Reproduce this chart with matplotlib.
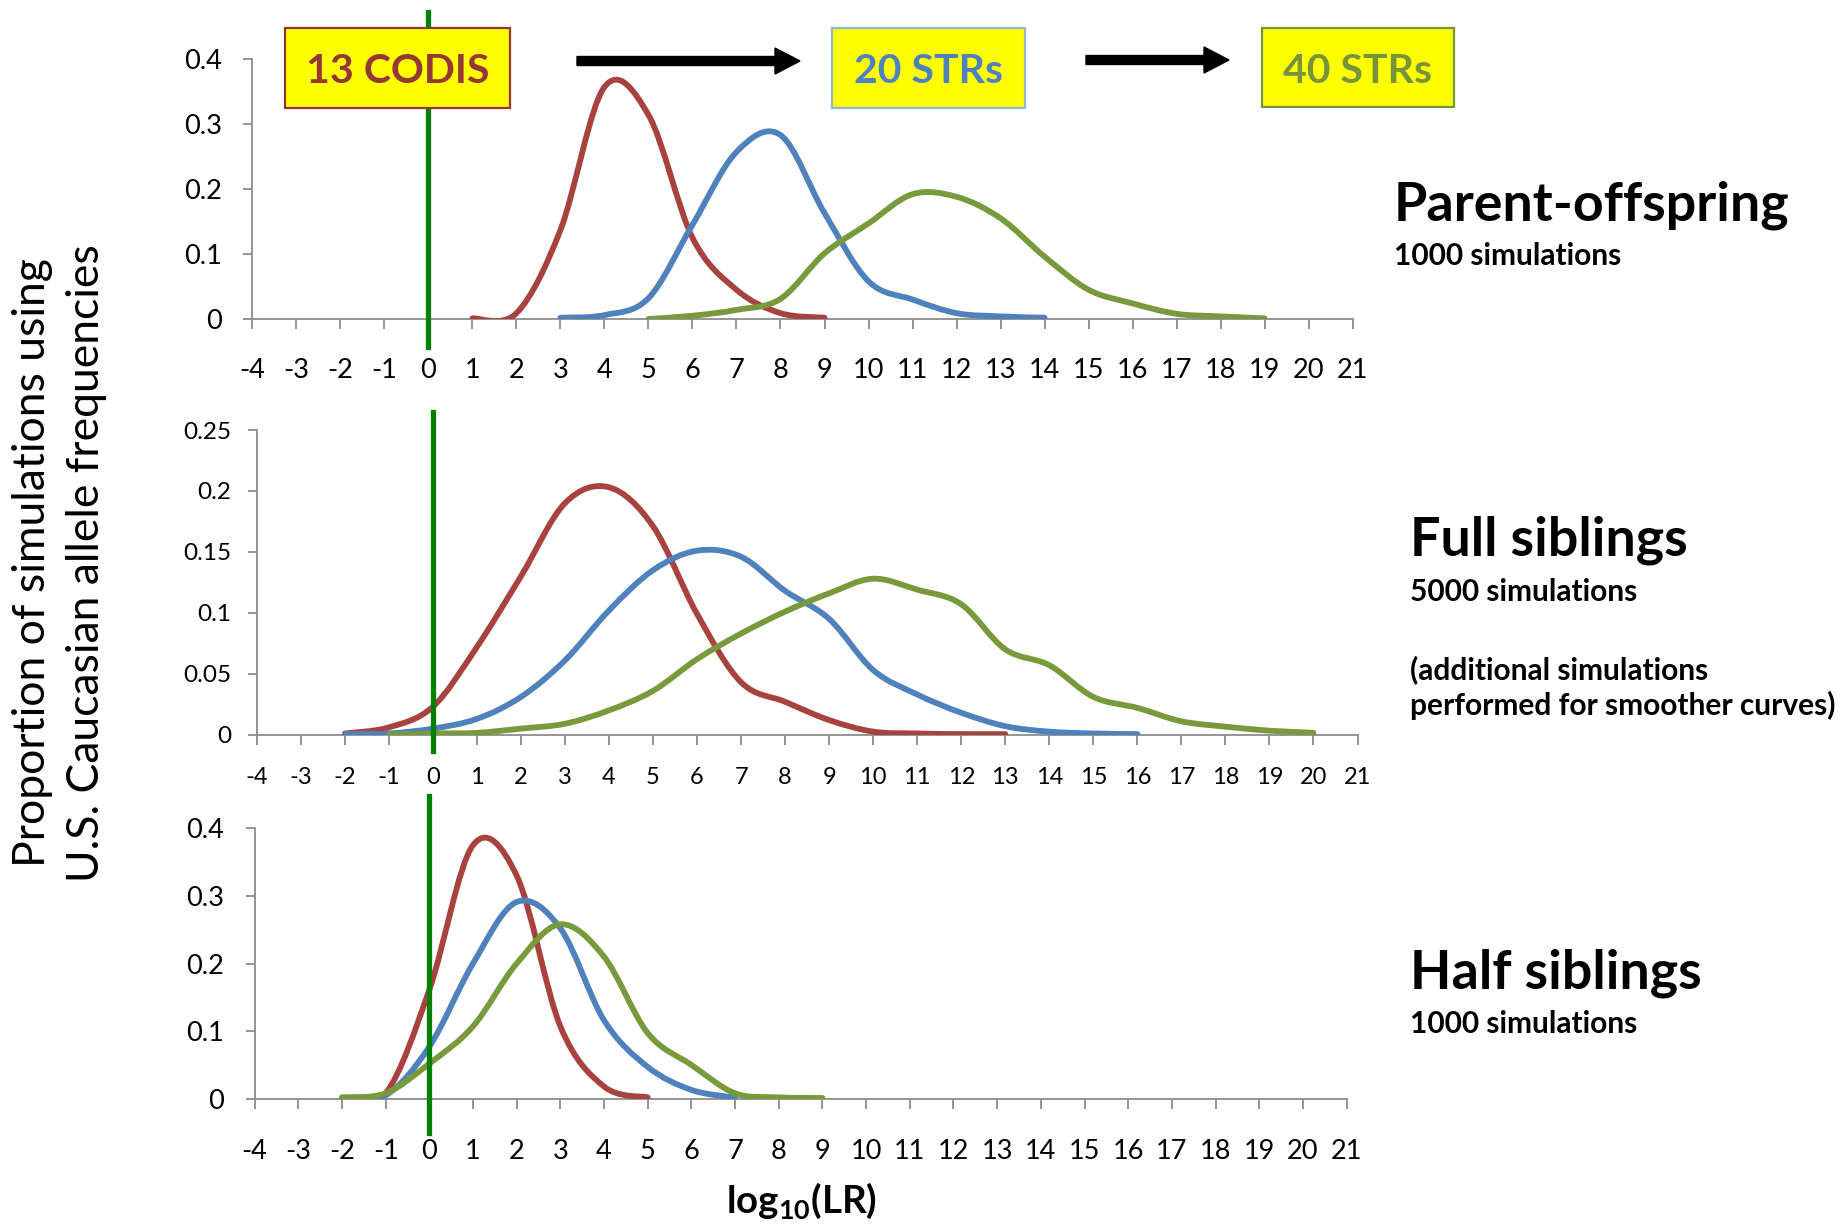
import matplotlib
matplotlib.use('Agg')
import matplotlib.pyplot as plt
import numpy as np
from matplotlib.path import Path
from matplotlib.patches import PathPatch, Rectangle, FancyArrow

plt.rcParams['font.family'] = ['Lato', 'DejaVu Sans']
plt.rcParams['mathtext.fontset'] = 'custom'
plt.rcParams['mathtext.rm'] = 'Lato'
plt.rcParams['mathtext.bf'] = 'Lato:bold'

# ---------------- data ----------------
x_ticks = list(range(-4, 22))

# Parent-offspring (1000 simulations)
po_codis_x = list(range(1, 10))
po_codis_y = [0.001, 0.009, 0.137, 0.357, 0.314, 0.125, 0.045, 0.009, 0.002]
po_str20_x = list(range(3, 15))
po_str20_y = [0.002, 0.006, 0.032, 0.145, 0.257, 0.283, 0.163, 0.058, 0.030, 0.009, 0.004, 0.002]
po_str40_x = list(range(5, 20))
po_str40_y = [0.000, 0.005, 0.014, 0.031, 0.101, 0.147, 0.192, 0.188, 0.155, 0.096,
              0.045, 0.024, 0.008, 0.004, 0.001]

# Full siblings (5000 simulations)
fs_codis_x = list(range(-2, 14))
fs_codis_y = [0.001, 0.006, 0.023, 0.072, 0.130, 0.190, 0.203, 0.171, 0.099, 0.043,
              0.027, 0.012, 0.0025, 0.001, 0.0005, 0.0005]
fs_str20_x = list(range(-2, 17))
fs_str20_y = [0.0005, 0.001, 0.005, 0.013, 0.031, 0.061, 0.102, 0.135, 0.151, 0.146,
              0.118, 0.095, 0.053, 0.033, 0.018, 0.007, 0.0025, 0.001, 0.0005]
fs_str40_x = list(range(-1, 21))
fs_str40_y = [0.000, 0.001, 0.0015, 0.005, 0.009, 0.020, 0.036, 0.062, 0.083, 0.101,
              0.116, 0.128, 0.119, 0.107, 0.070, 0.057, 0.031, 0.022, 0.011, 0.0066,
              0.0033, 0.0016]

# Half siblings (1000 simulations)
hs_codis_x = list(range(-2, 6))
hs_codis_y = [0.001, 0.008, 0.161, 0.375, 0.330, 0.107, 0.018, 0.002]
hs_str20_x = list(range(-2, 8))
hs_str20_y = [0.0015, 0.005, 0.077, 0.200, 0.291, 0.252, 0.116, 0.047, 0.013, 0.0015]
hs_str40_x = list(range(-2, 10))
hs_str40_y = [0.002, 0.008, 0.052, 0.107, 0.200, 0.258, 0.210, 0.097, 0.050, 0.008,
              0.002, 0.001]

po_yticks = [0, 0.1, 0.2, 0.3, 0.4]
fs_yticks = [0, 0.05, 0.1, 0.15, 0.2, 0.25]
hs_yticks = [0, 0.1, 0.2, 0.3, 0.4]

RED = '#A8423F'
BLUE = '#4F81BD'
GREEN = '#789A3C'
AXC = '#8C8C8C'
VLINE = '#008000'

W, H = 1841, 1224
fig = plt.figure(figsize=(W / 100, H / 100), dpi=100)


def smooth_path(xs, ys):
    """Excel-style smoothed line: cubic Bezier through the points."""
    pts = np.column_stack([xs, ys]).astype(float)
    n = len(pts)
    verts = [pts[0]]
    codes = [Path.MOVETO]
    for i in range(n - 1):
        p0 = pts[i - 1] if i > 0 else pts[i]
        p1 = pts[i]
        p2 = pts[i + 1]
        p3 = pts[i + 2] if i + 2 < n else pts[i + 1]
        c1 = p1 + (p2 - p0) / 6.0
        c2 = p2 - (p3 - p1) / 6.0
        verts += [c1, c2, p2]
        codes += [Path.CURVE4] * 3
    return Path(verts, codes)


def make_axes(rect, yticks, ylabels, ylim, xfs, yfs, xpad, ypad, series, vl):
    ax = fig.add_axes(rect)
    ax.set_xlim(-4, 21)
    ax.set_ylim(*ylim)
    for s in ['top', 'right']:
        ax.spines[s].set_visible(False)
    for s in ['left', 'bottom']:
        ax.spines[s].set_color(AXC)
        ax.spines[s].set_linewidth(1.3)
    ax.set_xticks(x_ticks)
    ax.set_xticklabels([str(v) for v in x_ticks])
    ax.set_yticks(yticks)
    ax.set_yticklabels(ylabels)
    ax.tick_params(axis='x', direction='out', length=7.5, width=1.3, color=AXC,
                   labelsize=xfs, pad=xpad, labelcolor='black')
    ax.tick_params(axis='y', direction='out', length=6.5, width=1.3, color=AXC,
                   labelsize=yfs, pad=ypad, labelcolor='black')
    for xs, ys, c in series:
        ax.add_patch(PathPatch(smooth_path(xs, ys), facecolor='none', edgecolor=c,
                               lw=4.2, capstyle='round', joinstyle='round', zorder=3))
    ax.axvline(0, ymin=vl[0], ymax=vl[1], color=VLINE, lw=3.8, clip_on=False, zorder=5)
    return ax


ax1 = make_axes([252.4 / W, 1 - 319 / H, 1100.2 / W, 260 / H],
                po_yticks, ['0', '0.1', '0.2', '0.3', '0.4'], (0, 0.4),
                19.5, 19.5, 20.5, 15.5,
                [(po_codis_x, po_codis_y, RED), (po_str20_x, po_str20_y, BLUE),
                 (po_str40_x, po_str40_y, GREEN)], (-0.108, 1.181))

ax2 = make_axes([256.8 / W, 1 - 734.7 / H, 1100.7 / W, 304.7 / H],
                fs_yticks, ['0', '0.05', '0.1', '0.15', '0.2', '0.25'], (0, 0.25),
                17, 17.5, 16, 12,
                [(fs_codis_x, fs_codis_y, RED), (fs_str20_x, fs_str20_y, BLUE),
                 (fs_str40_x, fs_str40_y, GREEN)], (-0.0535, 1.059))

ax3 = make_axes([254.6 / W, 1 - 1098.7 / H, 1092 / W, 270.4 / H],
                hs_yticks, ['0', '0.1', '0.2', '0.3', '0.4'], (0, 0.4),
                19.5, 19.5, 21.5, 15.5,
                [(hs_codis_x, hs_codis_y, RED), (hs_str20_x, hs_str20_y, BLUE),
                 (hs_str40_x, hs_str40_y, GREEN)], (-0.127, 1.119))


def fx(px):
    return px / W


def fy(py):
    return 1 - py / H


# ---- top boxes and arrows (pixel layout -> inches) ----
def box(x0, x1, y0, y1, edge, text, tcolor):
    r = Rectangle((x0 / 100, (H - y1) / 100), (x1 - x0) / 100, (y1 - y0) / 100,
                  transform=fig.dpi_scale_trans, facecolor='#FFFF00', edgecolor=edge,
                  lw=1.6, zorder=10)
    fig.add_artist(r)
    fig.text(fx((x0 + x1) / 2), fy(83), text, ha='center', va='baseline',
             fontsize=29.5, fontweight='bold', color=tcolor, zorder=11)


def arrow(x0, x1, y):
    a = FancyArrow(x0 / 100, (H - y) / 100, (x1 - x0) / 100, 0, width=0.09,
                   head_width=0.26, head_length=0.25, length_includes_head=True,
                   transform=fig.dpi_scale_trans, color='black', zorder=10)
    fig.add_artist(a)


box(285, 510, 28, 108, '#953735', '13 CODIS', '#953735')
box(832, 1025, 28, 108, '#95B3D7', '20 STRs', '#4F81BD')
box(1262, 1454, 28, 107, '#77933C', '40 STRs', '#77933C')
arrow(577, 800, 61)
arrow(1086, 1229, 60)

# ---- right-side annotations ----
big = 38.7
small = 21.5
fig.text(fx(1394), fy(221), 'Parent-offspring', fontsize=big, fontweight='bold', va='baseline')
fig.text(fx(1394), fy(265), '1000 simulations', fontsize=small, fontweight='bold', va='baseline')
fig.text(fx(1410), fy(556), 'Full siblings', fontsize=big, fontweight='bold', va='baseline')
fig.text(fx(1410), fy(601), '5000 simulations', fontsize=small, fontweight='bold', va='baseline')
fig.text(fx(1410), fy(679), '(additional simulations', fontsize=small, fontweight='bold', va='baseline')
fig.text(fx(1410), fy(715), 'performed for smoother curves)', fontsize=small, fontweight='bold', va='baseline')
fig.text(fx(1410), fy(989), 'Half siblings', fontsize=big, fontweight='bold', va='baseline')
fig.text(fx(1410), fy(1033), '1000 simulations', fontsize=small, fontweight='bold', va='baseline')

# ---- axis titles ----
fig.text(fx(33), fy(563), 'Proportion of simulations using', rotation=90,
         ha='center', va='center', fontsize=32)
fig.text(fx(87), fy(563), 'U.S. Caucasian allele frequencies', rotation=90,
         ha='center', va='center', fontsize=32)
fig.text(fx(802), fy(1213), r'$\mathbf{log_{10}(LR)}$', ha='center', va='baseline',
         fontsize=27.7)

fig.savefig('out.png', dpi=100, facecolor='white')
